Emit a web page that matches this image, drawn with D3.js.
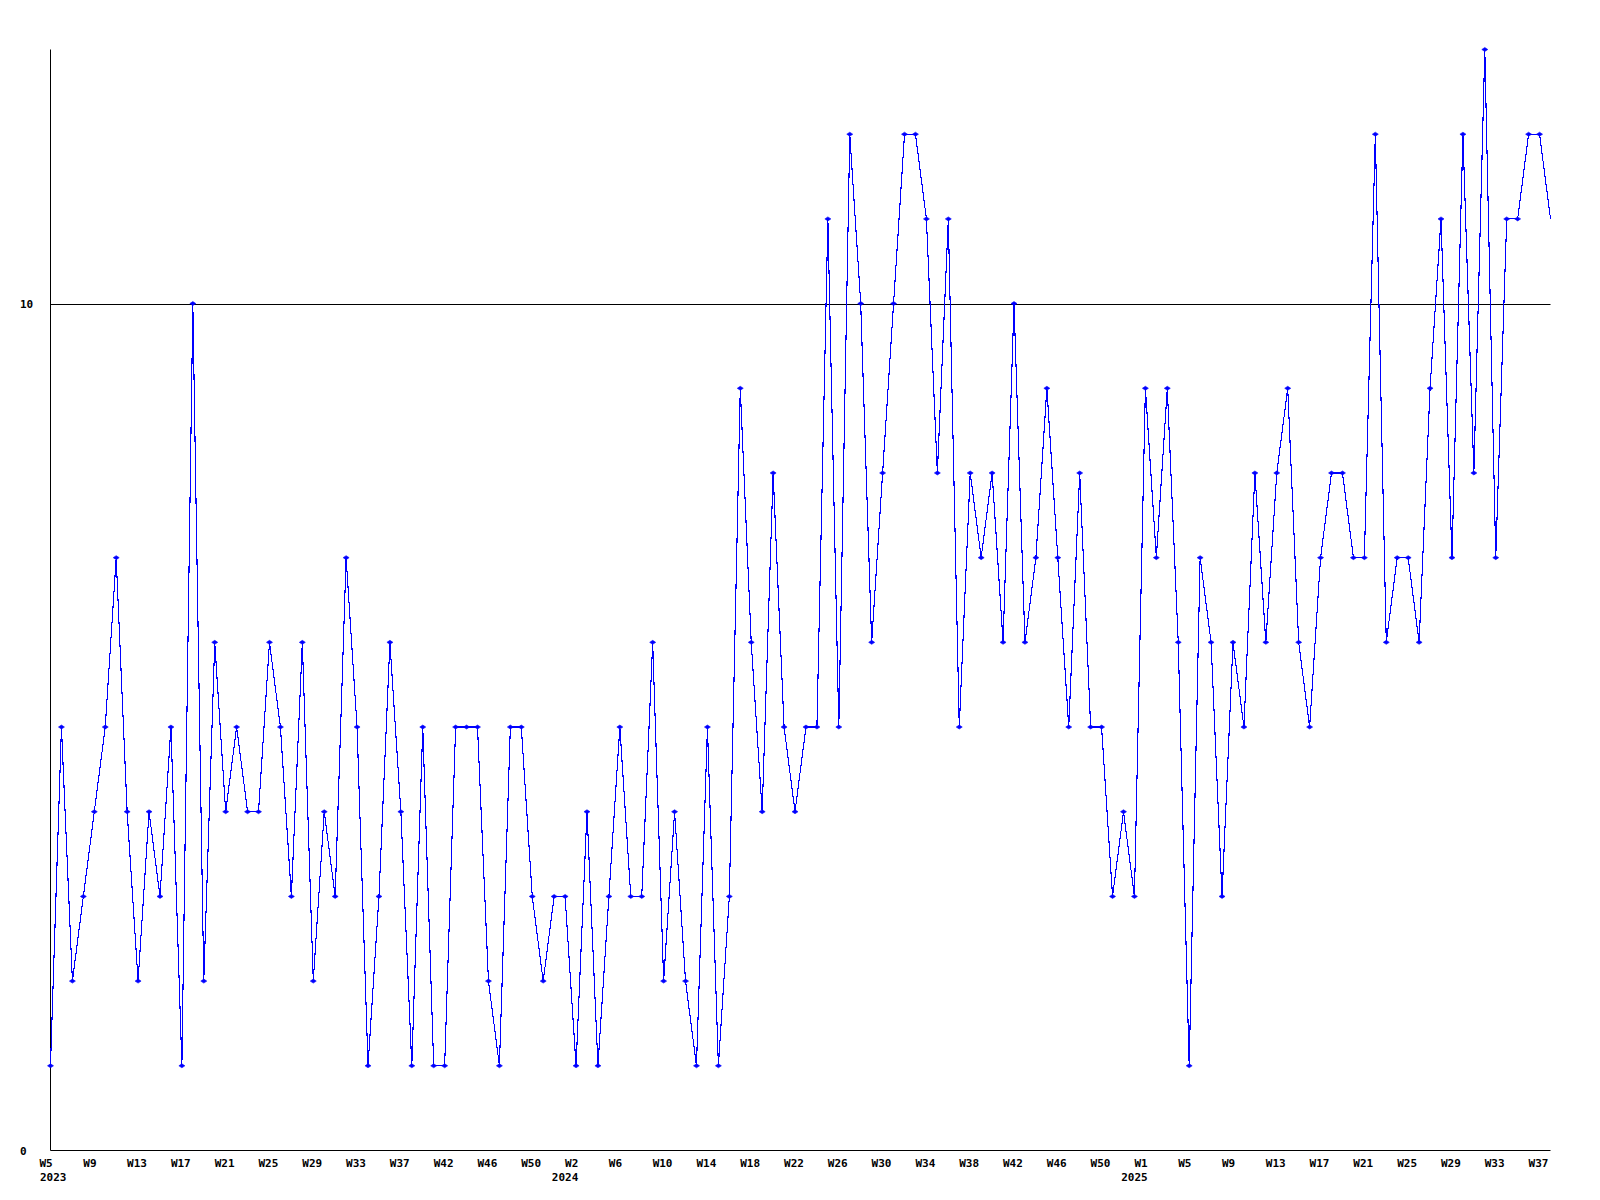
<!DOCTYPE html>
<html>
<head>
<meta charset="utf-8">
<script src="https://cdn.jsdelivr.net/npm/d3@7"></script>
<style>
  html, body { margin: 0; padding: 0; background: #ffffff; }
  svg { display: block; }
  text { font-family: "DejaVu Sans Mono", "Liberation Mono", monospace; font-weight: bold; font-size: 11px; fill: #000; }
</style>
</head>
<body>
<svg id="chart" width="1600" height="1200"></svg>
<script>
// Weekly counts, one per week, starting at W5 2023
const values = [
  1, 5, 2, 3, 4, 5, 7, 4, 2, 4, 3, 5, 1, 10, 2, 6, 4, 5, 4, 4, 6, 5, 3, 6,
  2, 4, 3, 7, 5, 1, 3, 6, 4, 1, 5, 1, 1, 5, 5, 5, 2, 1, 5, 5, 3, 2, 3, 3,
  1, 4, 1, 3, 5, 3, 3, 6, 2, 4, 2, 1, 5, 1, 3, 9, 6, 4, 8, 5, 4, 5, 5, 11,
  5, 12, 10, 6, 8, 10, 12, 12, 11, 8, 11, 5, 8, 7, 8, 6, 10, 6, 7, 9, 7, 5, 8, 5,
  5, 3, 4, 3, 9, 7, 9, 6, 1, 7, 6, 3, 6, 5, 8, 6, 8, 9, 6, 5, 7, 8, 8, 7,
  7, 12, 6, 7, 7, 6, 9, 11, 7, 12, 8, 13, 7, 11, 11, 12, 12, 11
];

// Tick labels, one every 4 weeks
const tickLabels = [
  "W5", "W9", "W13", "W17", "W21", "W25", "W29", "W33", "W37", "W42", "W46", "W50",
  "W2", "W6", "W10", "W14", "W18", "W22", "W26", "W30", "W34", "W38", "W42", "W46", "W50",
  "W1", "W5", "W9", "W13", "W17", "W21", "W25", "W29", "W33", "W37"
];
const tickStep = 4;

// Year labels and the tick index they sit under
const yearLabels = ["2023", "2024", "2025"];
const yearTickIndex = [0, 12, 25];

// Y axis labels
const yTicks = [0, 10];
const yMax = 13;

const svg = d3.select("#chart");

const x = d3.scaleLinear().domain([0, values.length - 1]).range([50.5, 1550.5]);
const y = d3.scaleLinear().domain([0, yMax]).range([1150.5, 49.5]);

const left = x(0), right = x(values.length - 1);

// reference line at 10
svg.append("line")
  .attr("x1", left).attr("x2", right)
  .attr("y1", Math.round(y(10)) + 0.5).attr("y2", Math.round(y(10)) + 0.5)
  .attr("stroke", "#000").attr("stroke-width", 1);

// axes lines
svg.append("line")
  .attr("x1", left).attr("x2", left)
  .attr("y1", y(yMax)).attr("y2", y(0))
  .attr("stroke", "#000").attr("stroke-width", 1);
svg.append("line")
  .attr("x1", left).attr("x2", right)
  .attr("y1", y(0)).attr("y2", y(0))
  .attr("stroke", "#000").attr("stroke-width", 1);

// y labels
svg.selectAll("text.ylab").data(yTicks).join("text")
  .attr("class", "ylab")
  .attr("x", 20)
  .attr("y", d => Math.round(y(d)) + 4)
  .text(d => d);

// x tick labels
const tickIdx = tickLabels.map((_, i) => i * tickStep);
svg.selectAll("text.xlab").data(tickLabels).join("text")
  .attr("class", "xlab")
  .attr("x", (d, i) => x(tickIdx[i]) - 11)
  .attr("y", 1166.5)
  .text(d => d);

// year labels (right-aligned under week label, but not left of x=40)
svg.selectAll("text.year").data(yearLabels).join("text")
  .attr("class", "year")
  .attr("x", (d, i) => {
    const tl = tickLabels[yearTickIndex[i]];
    const xl = x(tickIdx[yearTickIndex[i]]) - 11;
    const w = 6.6;
    return Math.max(40, xl + tl.length * w - d.length * w);
  })
  .attr("y", 1181)
  .text(d => d);

// line
const line = d3.line().x((d, i) => x(i)).y(d => y(d));
svg.append("path")
  .datum(values)
  .attr("d", line)
  .attr("fill", "none")
  .attr("stroke", "#0000ff")
  .attr("stroke-width", 1.1)
  .attr("shape-rendering", "crispEdges");

// markers (small diamonds), none on the final, partial week
const marker = d => `M-3,0L0,-2L3,0L0,2Z`;
svg.selectAll("path.mk").data(values.slice(0, values.length - 1)).join("path")
  .attr("class", "mk")
  .attr("transform", (d, i) => `translate(${x(i)},${y(d)})`)
  .attr("d", marker)
  .attr("fill", "#0000ff")
  .attr("stroke", "#0000ff")
  .attr("stroke-width", 0.6);
</script>
</body>
</html>
